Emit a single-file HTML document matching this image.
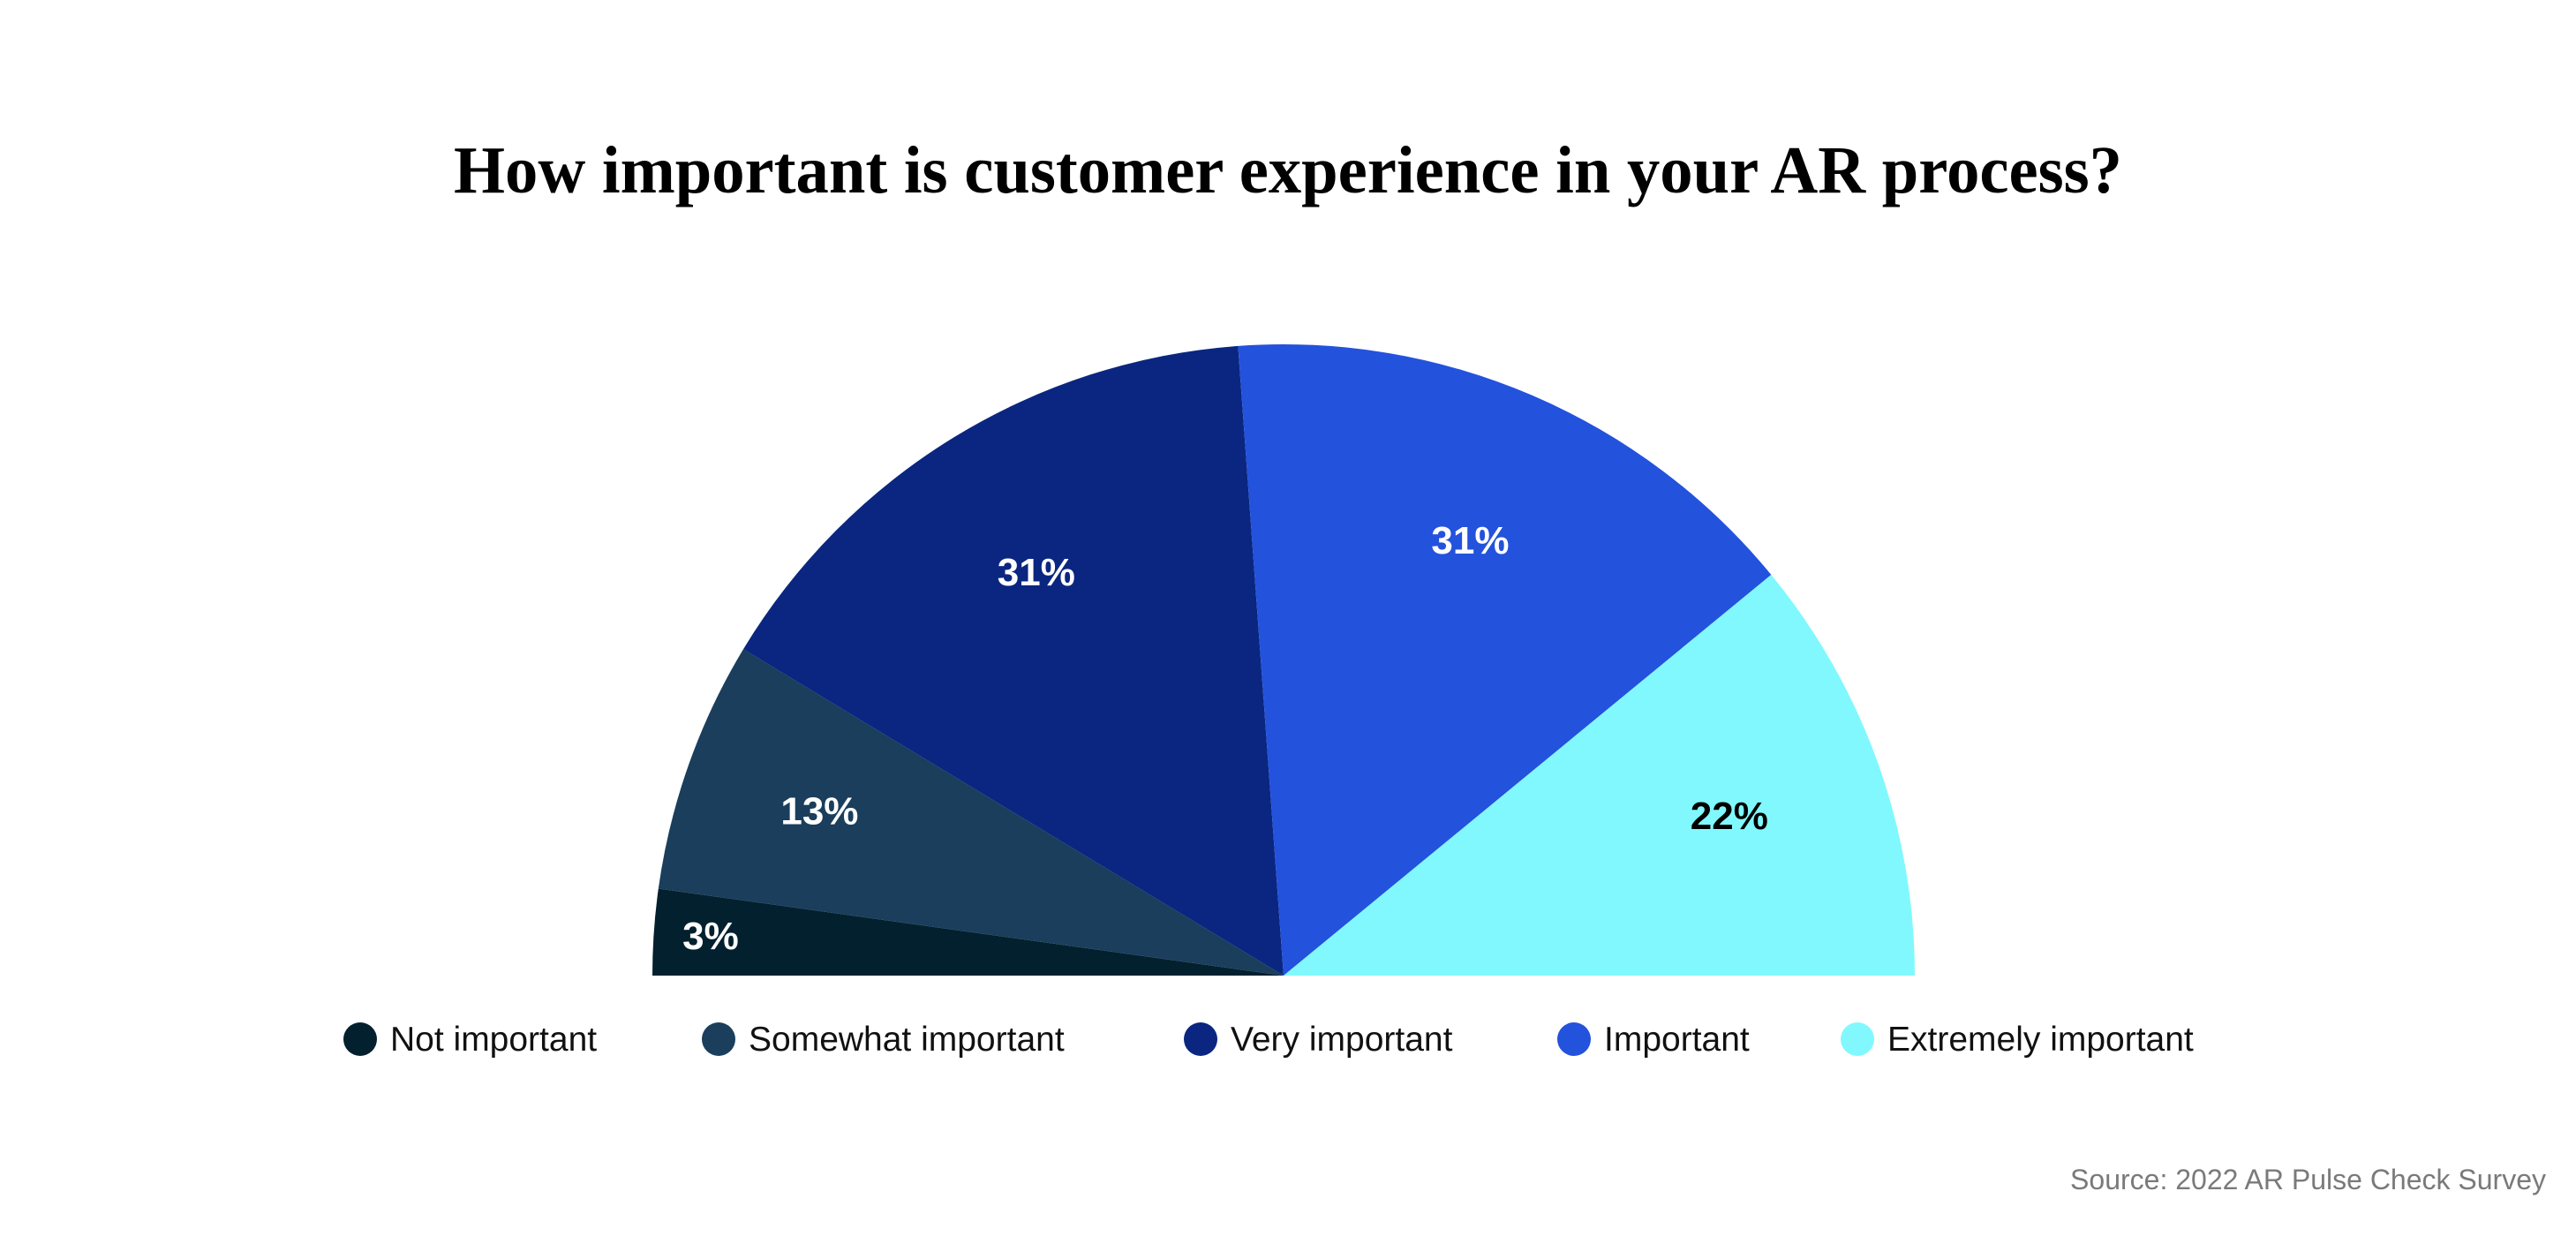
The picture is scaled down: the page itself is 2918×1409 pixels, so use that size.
<!DOCTYPE html>
<html><head><meta charset="utf-8"><style>
html,body{margin:0;padding:0;background:#fff;}
svg{display:block;}
</style></head><body>
<svg id="chart" width="2918" height="1409" viewBox="0 0 2918 1409" xmlns="http://www.w3.org/2000/svg">
<rect width="2918" height="1409" fill="#fff"/>
<text x="1459" y="218" text-anchor="middle" textLength="1890" lengthAdjust="spacingAndGlyphs" font-family="'Liberation Serif', serif" font-weight="bold" font-size="76" fill="#000">How important is customer experience in your AR process?</text>
<g id="slices"></g>
<g id="labels"></g>
<g id="legend"></g>
<text x="2884" y="1347" text-anchor="end" font-family="'Liberation Sans', sans-serif" font-size="32" fill="#7a7a7a">Source: 2022 AR Pulse Check Survey</text>
</svg>
<script>
const categories = ["Not important","Somewhat important","Very important","Important","Extremely important"];
const values = [4.4, 12.9, 30.4, 30.4, 21.9];
const valueLabels = ["3%","13%","31%","31%","22%"];
const colors = ["#03202f","#1a3e5c","#0a2680","#2352dc","#80f8fe"];
const labelColors = ["#fff","#fff","#fff","#fff","#000"];
const legendX = [408, 814, 1360, 1783, 2104];

const NS = "http://www.w3.org/2000/svg";
const cx = 1454, cy = 1105, R = 715;
const total = values.reduce((a,b)=>a+b,0);
function angleOf(v){ return Math.PI * v / total; } // from left, clockwise over top
function pt(a, r){ return [cx - r*Math.cos(a), cy - r*Math.sin(a)]; }

const gS = document.getElementById('slices');
const gL = document.getElementById('labels');
const gLeg = document.getElementById('legend');
let cum = 0;
values.forEach((v,i)=>{
  const a0 = angleOf(cum), a1 = angleOf(cum+v);
  const p0 = pt(a0,R), p1 = pt(a1,R);
  const large = (a1-a0) > Math.PI ? 1 : 0;
  const path = document.createElementNS(NS,'path');
  path.setAttribute('d', `M${cx},${cy} L${p0[0]},${p0[1]} A${R},${R} 0 ${large} 1 ${p1[0]},${p1[1]} Z`);
  path.setAttribute('fill', colors[i]);
  
  
  gS.appendChild(path);
  const mid = (a0+a1)/2;
  const span = a1-a0;
  const lr = span < 0.2 ? R*0.91 : (span < 0.5 ? R*0.78 : R*0.75);
  const lp = pt(mid, lr);
  const t = document.createElementNS(NS,'text');
  t.setAttribute('x', lp[0]); t.setAttribute('y', lp[1] + 15);
  t.setAttribute('text-anchor','middle');
  t.setAttribute('font-family',"'Liberation Sans', sans-serif");
  t.setAttribute('font-weight','bold');
  t.setAttribute('font-size','44');
  t.setAttribute('fill', labelColors[i]);
  t.textContent = valueLabels[i];
  
  
  gL.appendChild(t);
  cum += v;

  const c = document.createElementNS(NS,'circle');
  c.setAttribute('cx', legendX[i]); c.setAttribute('cy', 1177); c.setAttribute('r', 19);
  c.setAttribute('fill', colors[i]);
  
  
  gLeg.appendChild(c);
  const lt = document.createElementNS(NS,'text');
  lt.setAttribute('x', legendX[i] + 34); lt.setAttribute('y', 1190);
  lt.setAttribute('font-family',"'Liberation Sans', sans-serif");
  lt.setAttribute('font-size','39');
  lt.setAttribute('fill','#111');
  lt.textContent = categories[i];
  
  
  gLeg.appendChild(lt);
});
</script>
</body></html>
